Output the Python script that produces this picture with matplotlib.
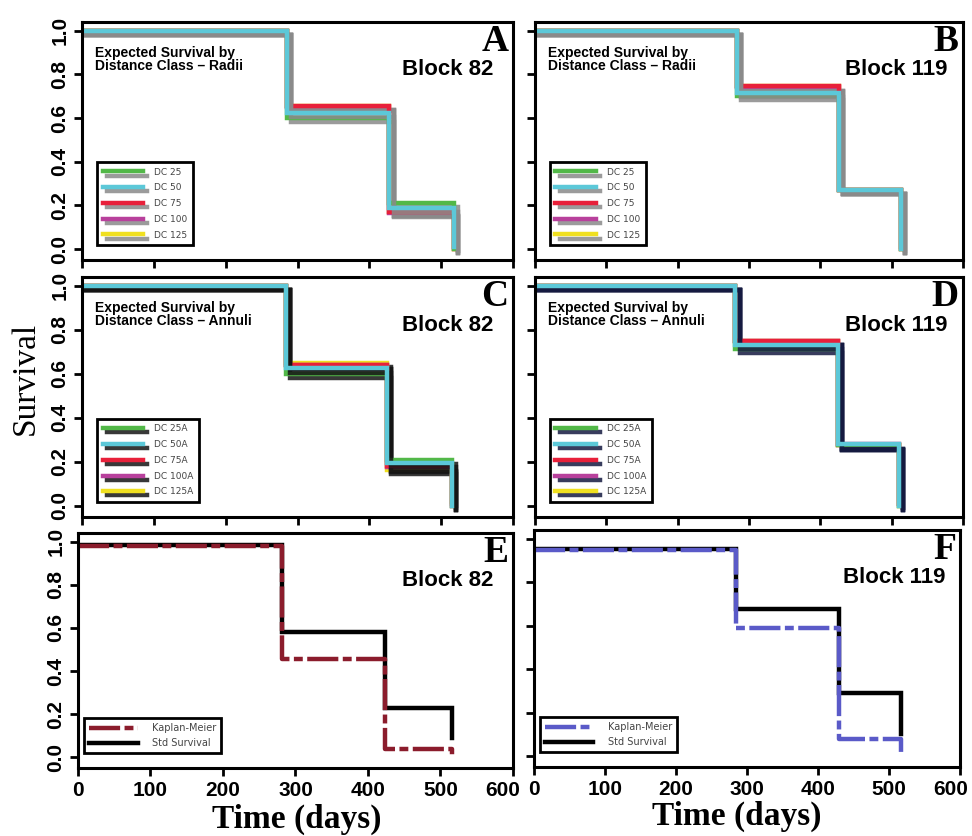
import matplotlib
matplotlib.use('Agg')
import matplotlib.pyplot as plt
import matplotlib.patheffects as pe
import matplotlib.transforms as mtransforms

# step times (days) for each panel
times_A = [0, 285, 428, 518]
times_B = [0, 283, 426, 513]
times_C = [0, 284, 425, 515]
times_D = [0, 281, 425, 510]
times_E = [0, 282, 424, 516]
times_F = [0, 284, 430, 517]

labels_radii = ['DC 25', 'DC 50', 'DC 75', 'DC 100', 'DC 125']
labels_annuli = ['DC 25A', 'DC 50A', 'DC 75A', 'DC 100A', 'DC 125A']

# survival values per distance class (DC25, DC50, DC75, DC100, DC125)
surv_A = [[1.0, 0.60, 0.21, 0.0],
          [1.0, 0.625, 0.19, 0.01],
          [1.0, 0.655, 0.17, 0.0],
          [1.0, 0.65, 0.165, 0.01],
          [1.0, 0.655, 0.17, 0.0]]
surv_B = [[1.0, 0.70, 0.27, 0.0],
          [1.0, 0.715, 0.27, 0.0],
          [1.0, 0.745, 0.27, 0.0],
          [1.0, 0.74, 0.27, 0.01],
          [1.0, 0.745, 0.27, 0.0]]
surv_C = [[1.0, 0.60, 0.21, 0.0],
          [1.0, 0.625, 0.195, 0.0],
          [1.0, 0.64, 0.18, 0.0],
          [1.0, 0.64, 0.175, 0.01],
          [1.0, 0.65, 0.165, 0.02]]
surv_D = [[1.0, 0.715, 0.275, 0.0],
          [1.0, 0.73, 0.28, 0.0],
          [1.0, 0.75, 0.275, 0.01],
          [1.0, 0.75, 0.28, 0.01],
          [1.0, 0.75, 0.275, 0.0]]

km_E = [0.98, 0.455, 0.04, 0.0]
std_E = [0.985, 0.58, 0.23, 0.09]
km_F = [0.95, 0.59, 0.08, 0.0]
std_F = [0.955, 0.675, 0.29, 0.10]

dc_colors = ['#52b848', '#5cc8d8', '#e8203a', '#b8409c', '#f0e020']
draw_order = [4, 3, 2, 0, 1]

SANS = 'Liberation Sans'
SERIF = 'Liberation Serif'

fig = plt.figure(figsize=(9.72, 8.36), dpi=100)

pos = {
    'A': [0.0844, 0.689, 0.4434, 0.2847],
    'B': [0.5504, 0.689, 0.4403, 0.2847],
    'C': [0.0844, 0.3816, 0.4434, 0.287],
    'D': [0.5504, 0.3816, 0.4403, 0.287],
    'E': [0.0802, 0.0813, 0.4475, 0.281],
    'F': [0.5494, 0.0825, 0.4383, 0.2835],
}


def style_axes(ax, left_labels, bottom_labels):
    ax.set_xlim(0, 600)
    ax.set_ylim(-0.05, 1.04)
    ax.set_xticks(range(0, 601, 100))
    ax.set_yticks([0.0, 0.2, 0.4, 0.6, 0.8, 1.0])
    ax.yaxis.set_major_formatter(matplotlib.ticker.FormatStrFormatter('%.1f'))
    for s in ax.spines.values():
        s.set_linewidth(2.2)
    ax.tick_params(direction='out', length=6, width=2, labelsize=15, pad=3)
    ax.tick_params(axis='y', labelrotation=90)
    ax.tick_params(labelleft=left_labels, labelbottom=bottom_labels)
    for lab in ax.get_xticklabels() + ax.get_yticklabels():
        lab.set_fontfamily(SANS)
        lab.set_fontweight('bold')
    for lab in ax.get_yticklabels():
        lab.set_va('center')


def add_texts(ax, letter, block, subtitle, block_x):
    ax.text(0.99, 0.99, letter, transform=ax.transAxes, ha='right', va='top',
            fontsize=27, fontweight='bold', family=SERIF)
    ax.text(block_x, 0.80, block, transform=ax.transAxes, ha='right', va='center',
            fontsize=16, fontweight='bold', family=SANS)
    if subtitle:
        ax.text(0.03, 0.90, subtitle, transform=ax.transAxes, ha='left', va='top',
                fontsize=10, fontweight='bold', family=SANS, linespacing=0.95)


def dc_panel(ax, times, surv, labels, shadow):
    handles = [None] * len(surv)
    for i in draw_order:
        line, = ax.step(times, surv[i], where='post', color=dc_colors[i], lw=3.2,
                        label=labels[i], solid_joinstyle='miter',
                        path_effects=[pe.SimpleLineShadow(offset=(3, -3), shadow_color=shadow,
                                                          alpha=0.85), pe.Normal()])
        handles[i] = line
    leg = ax.legend(handles=handles, loc='lower left', bbox_to_anchor=(0.035, 0.063),
                    borderaxespad=0, fontsize=6.5, handlelength=4.5, labelspacing=0.75,
                    fancybox=False, framealpha=1, borderpad=0.6, handletextpad=1.2)
    leg.get_frame().set_edgecolor('black')
    leg.get_frame().set_linewidth(2)
    for t in leg.get_texts():
        t.set_color('#444444')


def km_panel(ax, times, std, km, km_color):
    ax.step(times, std, where='post', color='black', lw=3.2, label='Std Survival',
            solid_joinstyle='miter')
    ax.step(times, km, where='post', color=km_color, lw=3.2, label='Kaplan-Meier',
            linestyle=(0, (7, 1, 2, 1)))
    h, l = ax.get_legend_handles_labels()
    leg = ax.legend(h[::-1], l[::-1], loc='lower left', bbox_to_anchor=(0.014, 0.064),
                    borderaxespad=0, fontsize=7, handlelength=5, labelspacing=0.5,
                    fancybox=False, framealpha=1, borderpad=0.5, handletextpad=1.5)
    leg.get_frame().set_edgecolor('black')
    leg.get_frame().set_linewidth(2)
    for t in leg.get_texts():
        t.set_color('#444444')


def nudge_last_xlabel(ax, dx_px):
    last = ax.get_xticklabels()[-1]
    last.set_transform(last.get_transform() +
                       mtransforms.ScaledTranslation(dx_px / 100, 0, fig.dpi_scale_trans))


axA = fig.add_axes(pos['A'])
dc_panel(axA, times_A, surv_A, labels_radii, '#8a8a8a')
style_axes(axA, True, False)
add_texts(axA, 'A', 'Block 82', 'Expected Survival by\nDistance Class \u2013 Radii', 0.955)

axB = fig.add_axes(pos['B'])
dc_panel(axB, times_B, surv_B, labels_radii, '#8a8a8a')
style_axes(axB, False, False)
add_texts(axB, 'B', 'Block 119', 'Expected Survival by\nDistance Class \u2013 Radii', 0.965)

axC = fig.add_axes(pos['C'])
dc_panel(axC, times_C, surv_C, labels_annuli, '#151515')
style_axes(axC, True, False)
add_texts(axC, 'C', 'Block 82', 'Expected Survival by\nDistance Class \u2013 Annuli', 0.955)

axD = fig.add_axes(pos['D'])
dc_panel(axD, times_D, surv_D, labels_annuli, '#151a40')
style_axes(axD, False, False)
add_texts(axD, 'D', 'Block 119', 'Expected Survival by\nDistance Class \u2013 Annuli', 0.965)

axE = fig.add_axes(pos['E'])
km_panel(axE, times_E, std_E, km_E, '#8b1c2c')
style_axes(axE, True, True)
add_texts(axE, 'E', 'Block 82', None, 0.955)

axF = fig.add_axes(pos['F'])
km_panel(axF, times_F, std_F, km_F, '#5a5ac8')
style_axes(axF, False, True)
add_texts(axF, 'F', 'Block 119', None, 0.965)

# the "600" labels sit a little left of their ticks, as in the original
nudge_last_xlabel(axE, -10)
nudge_last_xlabel(axF, -9)

fig.text(0.026, 0.547, 'Survival', rotation=90, ha='center', va='center',
         fontsize=24, family=SERIF)
fig.text(0.305, 0.02, 'Time (days)', ha='center', va='center',
         fontsize=24, fontweight='bold', family=SERIF)
fig.text(0.758, 0.024, 'Time (days)', ha='center', va='center',
         fontsize=24, fontweight='bold', family=SERIF)

fig.savefig('out.png', dpi=100)
